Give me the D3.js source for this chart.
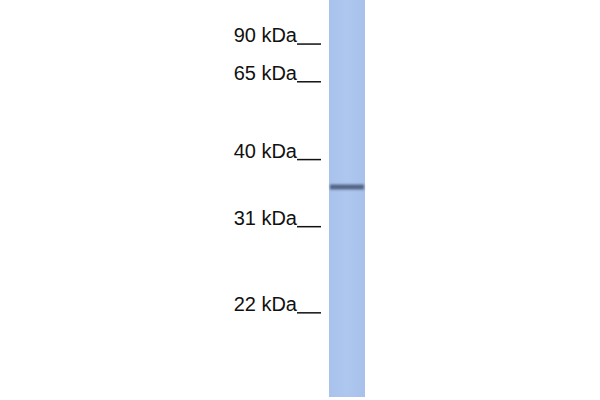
<!DOCTYPE html>
<html>
<head>
<meta charset="utf-8">
<script src="https://cdn.jsdelivr.net/npm/d3@7"></script>
<style>
  html, body { margin: 0; padding: 0; background: #fff; }
</style>
</head>
<body>
<svg id="blot"></svg>
<script>
// marker ladder (kDa) and relative mobility
const markers = [90, 65, 40, 31, 22];
const markerRf = [0.111, 0.206, 0.402, 0.571, 0.788];
// detected band(s): relative mobility and intensity
const bandRf = [0.471];
const bandStrength = [0.8];

const width = 600;
const height = 400;
const laneX = 329, laneW = 36;
const laneTop = 0, laneBottom = 397;

const svg = d3.select("#blot")
  .attr("width", width)
  .attr("height", height);

const y = d3.scaleLinear()
  .domain([0, 1])
  .range([laneTop, laneBottom]);

const defs = svg.append("defs");
const blur = defs.append("filter").attr("id", "blur")
  .attr("x", "-10%").attr("y", "-200%").attr("width", "120%").attr("height", "500%");
blur.append("feGaussianBlur").attr("stdDeviation", "1.2 1.3");

const laneGrad = defs.append("linearGradient").attr("id", "laneGrad")
  .attr("x1", 0).attr("x2", 1).attr("y1", 0).attr("y2", 0);
laneGrad.append("stop").attr("offset", "0%").attr("stop-color", "#a8c2ec");
laneGrad.append("stop").attr("offset", "50%").attr("stop-color", "#adc7ef");
laneGrad.append("stop").attr("offset", "100%").attr("stop-color", "#a7c1eb");

// lane
svg.append("rect")
  .attr("x", laneX)
  .attr("y", y(0))
  .attr("width", laneW)
  .attr("height", y(1) - y(0))
  .attr("fill", "url(#laneGrad)");

// band
svg.selectAll("rect.band")
  .data(bandRf.map((r, i) => ({ r, s: bandStrength[i] })))
  .enter()
  .append("rect")
  .attr("class", "band")
  .attr("x", laneX + 1)
  .attr("y", d => y(d.r) - 2.5)
  .attr("width", laneW - 2)
  .attr("height", 5)
  .attr("fill", "#3f4e6b")
  .attr("opacity", d => d.s)
  .attr("filter", "url(#blur)");

// marker labels
const g = svg.append("g").attr("class", "ladder");

g.selectAll("text")
  .data(markers)
  .enter()
  .append("text")
  .attr("x", 297)
  .attr("y", (d, i) => y(markerRf[i]) - 2)
  .attr("text-anchor", "end")
  .style("font-family", "'Liberation Sans', Arial, sans-serif")
  .style("font-size", "20px")
  .style("fill", "#111")
  .text(d => `${d} kDa`);

g.selectAll("line")
  .data(markers)
  .enter()
  .append("line")
  .attr("x1", 297)
  .attr("x2", 321)
  .attr("y1", (d, i) => y(markerRf[i]))
  .attr("y2", (d, i) => y(markerRf[i]))
  .attr("stroke", "#111")
  .attr("stroke-width", 1.5);
</script>
</body>
</html>
